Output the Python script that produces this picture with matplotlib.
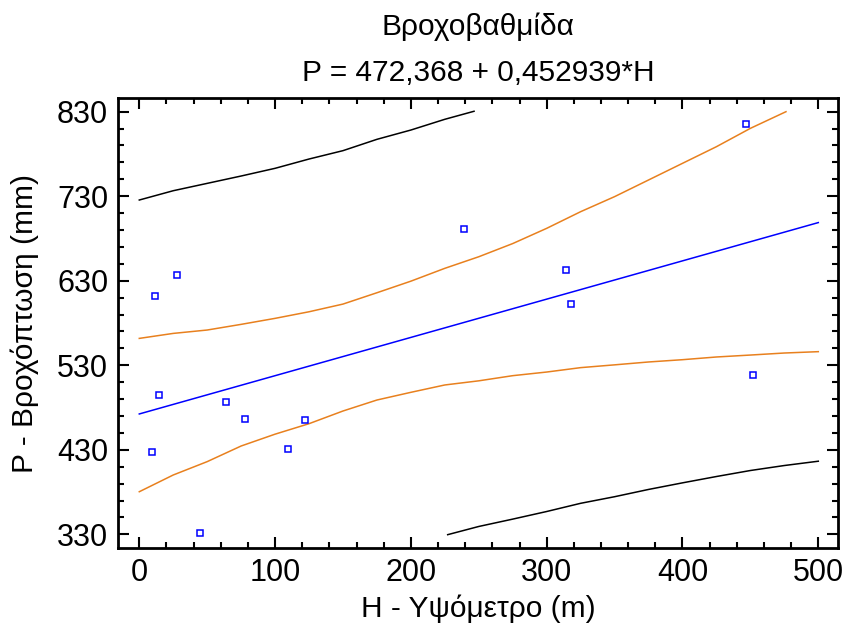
import matplotlib.pyplot as plt
from matplotlib.ticker import MultipleLocator

plt.rcParams['font.family'] = ['Liberation Sans', 'DejaVu Sans']

# Σημεία (υψόμετρο, βροχόπτωση)
H = [11.3, 27.5, 239.3, 446.8, 314.4, 318.1, 14.3, 63.6, 77.6, 122.2, 9.4, 109.7, 44.5, 451.7]
P = [612.2, 636.7, 691.5, 815.1, 643.0, 602.0, 494.5, 486.6, 466.8, 465.3, 427.4, 430.6, 331.5, 518.5]

# Ευθεία παλινδρόμησης
fit_x = [0, 500]
fit_y = [472.4, 698.8]

# Όρια εμπιστοσύνης (πορτοκαλί)
ci_up_x = [0, 25, 50, 75, 100, 125, 150, 175, 200, 225, 250, 275, 300,
           325, 350, 375, 400, 425, 450, 476.2]
ci_up_y = [561.8, 567.7, 571.7, 578.4, 585.5, 593.3, 602.4, 615.8, 629.5, 644.7, 658.4, 674.0, 692.0,
           711.7, 729.5, 749.2, 768.9, 788.6, 810.3, 830.0]
ci_lo_x = [0, 25, 50, 75, 100, 125, 150, 175, 200, 225, 250, 275, 300,
           325, 350, 375, 400, 425, 450, 475, 500]
ci_lo_y = [380.4, 400.2, 416.0, 434.5, 448.5, 460.9, 475.9, 488.9, 498.0, 506.7, 511.6, 517.7, 522.0,
           527.2, 530.5, 533.9, 536.6, 539.8, 542.1, 544.5, 546.1]

# Όρια πρόβλεψης (μαύρα)
pi_up_x = [0, 25, 50, 75, 100, 125, 150, 175, 200, 225, 246.5]
pi_up_y = [725.5, 736.5, 745.2, 753.9, 763.0, 774.0, 783.9, 797.3, 808.3, 821.0, 830.5]
pi_lo_x = [227.1, 250, 275, 300, 325, 350, 375, 400, 425, 450, 475, 500]
pi_lo_y = [329.6, 339.3, 348.0, 357.0, 366.7, 374.5, 383.1, 390.9, 398.4, 405.5, 411.4, 416.5]

fig = plt.figure(figsize=(8.45, 6.31), dpi=100)
ax = fig.add_axes([0.1396, 0.1315, 0.8521, 0.7132])

ax.plot(pi_up_x, pi_up_y, color='black', lw=1.1)
ax.plot(pi_lo_x, pi_lo_y, color='black', lw=1.1)
ax.plot(ci_up_x, ci_up_y, color='#e8801e', lw=1.1)
ax.plot(ci_lo_x, ci_lo_y, color='#e8801e', lw=1.1)
ax.plot(fit_x, fit_y, color='#0000ff', lw=1.1)
ax.plot(H, P, 's', mfc='none', mec='#0000ff', ms=5, mew=1.1)

ax.set_xlim(-15.7, 514.5)
ax.set_ylim(313.8, 846.2)
ax.xaxis.set_major_locator(MultipleLocator(100))
ax.xaxis.set_minor_locator(MultipleLocator(20))
ax.set_yticks([330, 430, 530, 630, 730, 830])
ax.set_yticks(range(330, 831, 20), minor=True)
ax.tick_params(which='both', direction='in', top=True, right=True, width=1.5, labelsize=22)
ax.tick_params(which='major', length=8, pad=7)
ax.tick_params(which='minor', length=4)
for s in ax.spines.values():
    s.set_linewidth(2)

ax.set_xlabel('H - Υψόμετρο (m)', fontsize=21.5, labelpad=5)
ax.set_ylabel('P - Βροχόπτωση (mm)', fontsize=21.5, labelpad=13)
ax.set_title('Βροχοβαθμίδα\nP = 472,368 + 0,452939*H', fontsize=21.5, linespacing=1.85, pad=12)

fig.savefig('out.png')
